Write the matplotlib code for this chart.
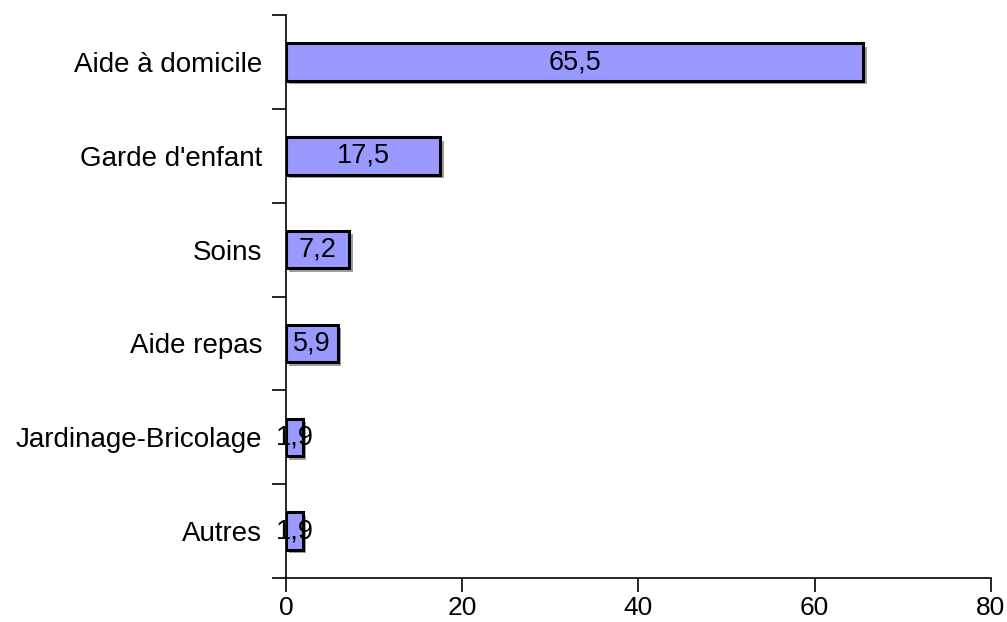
import matplotlib.pyplot as plt
import matplotlib.patheffects as pe

categories = ["Aide à domicile", "Garde d'enfant", "Soins", "Aide repas",
              "Jardinage-Bricolage", "Autres"]
values = [65.5, 17.5, 7.2, 5.9, 1.9, 1.9]
labels = ["65,5", "17,5", "7,2", "5,9", "1,9", "1,9"]

plt.rcParams['font.family'] = ['Liberation Sans', 'DejaVu Sans']

fig = plt.figure(figsize=(10.07, 6.22), dpi=100)
ax = fig.add_axes([0.284, 0.0707, 0.7, 0.905])

pos = list(range(len(categories)))[::-1]
bars = ax.barh(pos, values, height=0.4, color='#9999ff', edgecolor='black', linewidth=2.2)
for b in bars:
    b.set_path_effects([pe.SimplePatchShadow(offset=(2.5, -2.5), shadow_rgbFace='#777777', alpha=0.7), pe.Normal()])

for p, v, t in zip(pos, values, labels):
    ax.text(v / 2, p, t, ha='center', va='center', fontsize=19.5, color='black')

ax.set_xlim(0, 80)
ax.set_ylim(-0.5, len(categories) - 0.5)
ax.set_xticks([0, 20, 40, 60, 80])
ax.set_yticks(pos)
ax.set_yticklabels(categories)
ax.set_yticks([i - 0.5 for i in range(len(categories) + 1)], minor=True)
ax.tick_params(axis='y', which='major', length=0, pad=17, labelsize=20)
ax.tick_params(axis='y', which='minor', length=10, width=1.2)
ax.tick_params(axis='x', length=10, width=1.2, labelsize=19, pad=3)

ax.spines['top'].set_visible(False)
ax.spines['right'].set_visible(False)
ax.spines['left'].set_linewidth(1.2)
ax.spines['bottom'].set_linewidth(1.2)

fig.savefig('out.png', dpi=100)
